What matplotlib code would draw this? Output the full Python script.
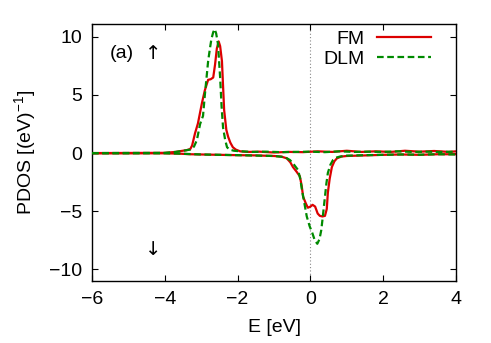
import matplotlib.pyplot as plt

plt.rcParams["font.family"] = ["Liberation Sans", "DejaVu Sans"]
plt.rcParams["mathtext.default"] = "regular"

# spin up, FM
e_fm_up = [-6.0, -4.0, -3.7, -3.55, -3.4, -3.3, -3.25, -3.17, -3.09, -2.98, -2.9,
           -2.81, -2.74, -2.67, -2.62, -2.57, -2.52, -2.48, -2.43, -2.37, -2.31,
           -2.26, -2.2, -2.13, -2.05, -1.93, -1.7, -1.4, -1.0, -0.6, -0.2, 0.2,
           0.6, 1.0, 1.4, 1.8, 2.2, 2.6, 3.0, 3.4, 3.8, 4.0]
pdos_fm_up = [0.0, 0.02, 0.1, 0.18, 0.25, 0.35, 0.65, 1.7, 2.55, 4.3, 5.4,
              6.3, 6.35, 6.5, 7.6, 9.0, 9.6, 9.2, 7.9, 3.7, 2.0,
              1.4, 0.9, 0.5, 0.3, 0.15, 0.1, 0.12, 0.05, 0.1, 0.08, 0.15,
              0.1, 0.2, 0.1, 0.15, 0.1, 0.2, 0.12, 0.18, 0.1, 0.15]

# spin up, DLM
e_dlm_up = [-6.0, -4.0, -3.7, -3.5, -3.3, -3.2, -3.12, -3.03, -2.95, -2.9, -2.85,
            -2.81, -2.76, -2.72, -2.67, -2.63, -2.59, -2.54, -2.48, -2.44, -2.4,
            -2.34, -2.29, -2.22, -2.1, -1.9, -1.6, -1.2, -0.8, -0.4, 0.0, 0.4,
            0.8, 1.2, 1.6, 2.0, 2.4, 2.8, 3.2, 3.6, 4.0]
pdos_dlm_up = [0.0, 0.02, 0.1, 0.2, 0.3, 0.55, 1.1, 2.5, 3.2, 5.0, 6.6,
               7.9, 9.0, 9.8, 10.4, 10.65, 10.3, 9.4, 6.5, 4.0, 2.2,
               1.1, 0.5, 0.3, 0.2, 0.15, 0.1, 0.12, 0.08, 0.1, 0.12, 0.08,
               0.15, 0.1, 0.12, 0.1, 0.15, 0.1, 0.12, 0.1, 0.12]

# spin down, FM
e_fm_dn = [-6.0, -4.0, -3.6, -3.3, -3.0, -2.5, -2.0, -1.5, -1.0, -0.8, -0.65,
           -0.55, -0.48, -0.38, -0.29, -0.24, -0.2, -0.13, -0.07, 0.0, 0.06,
           0.13, 0.2, 0.26, 0.33, 0.4, 0.45, 0.48, 0.53, 0.59, 0.66, 0.73,
           0.85, 1.0, 1.5, 2.0, 2.5, 3.0, 3.5, 4.0]
pdos_fm_dn = [-0.02, -0.02, -0.05, -0.1, -0.12, -0.15, -0.18, -0.2, -0.25, -0.3, -0.45,
              -0.8, -1.2, -1.6, -2.0, -2.8, -3.75, -4.3, -4.7, -4.6, -4.45,
              -4.6, -5.2, -5.4, -5.45, -5.4, -4.8, -3.4, -2.2, -1.2, -0.7, -0.45,
              -0.3, -0.25, -0.2, -0.15, -0.12, -0.15, -0.1, -0.1]

# spin down, DLM
e_dlm_dn = [-6.0, -4.0, -3.6, -3.0, -2.0, -1.0, -0.7, -0.56, -0.45, -0.34, -0.28,
            -0.23, -0.16, -0.1, -0.02, 0.05, 0.12, 0.19, 0.25, 0.3, 0.35,
            0.4, 0.44, 0.48, 0.55, 0.62, 0.7, 0.81, 1.0, 1.5, 2.0, 2.5,
            3.0, 3.5, 4.0]
pdos_dlm_dn = [-0.02, -0.02, -0.05, -0.12, -0.18, -0.25, -0.35, -0.6, -1.0, -1.45, -2.2,
               -3.2, -4.4, -5.45, -6.3, -6.85, -7.5, -7.8, -7.4, -6.6, -5.2,
               -3.75, -2.6, -1.7, -1.0, -0.6, -0.4, -0.3, -0.22, -0.18, -0.15, -0.12,
               -0.14, -0.1, -0.12]

x_ticks = [-6, -4, -2, 0, 2, 4]
y_ticks = [-10, -5, 0, 5, 10]

RED = "#dc0000"
GREEN = "#008a00"
FS = 14

fig = plt.figure(figsize=(4.91, 3.43), dpi=100)
ax = fig.add_axes([0.1874, 0.1808, 0.7413, 0.7492])

ax.axvline(0, color="#888888", linestyle=(0, (1, 2)), linewidth=0.8, zorder=1)

ax.plot(e_fm_up, pdos_fm_up, color=RED, linewidth=1.6, label="FM", zorder=2)
ax.plot(e_fm_dn, pdos_fm_dn, color=RED, linewidth=1.6, zorder=2)
ax.plot(e_dlm_up, pdos_dlm_up, color=GREEN, linewidth=1.6, dashes=(3, 1.6),
        label="DLM", zorder=3)
ax.plot(e_dlm_dn, pdos_dlm_dn, color=GREEN, linewidth=1.6, dashes=(3, 1.6), zorder=3)

ax.set_xlim(-6, 4)
ax.set_ylim(-11, 11.1)
ax.set_xticks(x_ticks)
ax.set_yticks(y_ticks)
ax.tick_params(direction="in", top=True, right=True, length=4, width=0.8,
               labelsize=FS, pad=7)
for sp in ax.spines.values():
    sp.set_linewidth(1.0)

ax.set_xlabel("E [eV]", fontsize=FS, labelpad=8)
ax.set_ylabel("PDOS [(eV)$^{-1}$]", fontsize=FS, labelpad=8)

ax.text(-5.5, 8.6, "(a)", fontsize=FS, ha="left", va="center")
ax.text(-4.32, 8.6, "\u2191", fontsize=FS, ha="center", va="center",
        family=["DejaVu Sans"])
ax.text(-4.32, -8.3, "\u2193", fontsize=FS, ha="center", va="center",
        family=["DejaVu Sans"])

ax.legend(loc="upper right", bbox_to_anchor=(0.931, 0.975), frameon=False,
          fontsize=FS, markerfirst=False, handlelength=2.75, handletextpad=0.65,
          borderaxespad=0, borderpad=0, labelspacing=0.12)

fig.savefig("out.png", dpi=100)
